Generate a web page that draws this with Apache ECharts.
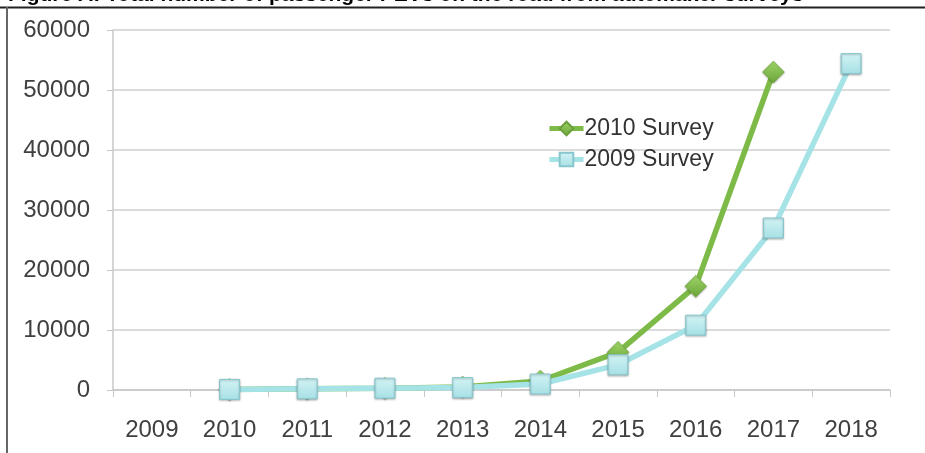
<!DOCTYPE html>
<html>
<head>
<meta charset="utf-8">
<script src="https://cdn.jsdelivr.net/npm/echarts@6/dist/echarts.min.js"></script>
<style>
  html, body { margin: 0; padding: 0; background: #fff; }
  #chart { width: 925px; height: 453px; }
</style>
</head>
<body>
<div id="chart"></div>
<script>
const years = ["2009", "2010", "2011", "2012", "2013", "2014", "2015", "2016", "2017", "2018"];
const survey2010 = [null, 100, 200, 300, 500, 1500, 6300, 17300, 53000, null];
const survey2009 = [null, 100, 200, 300, 400, 1000, 4200, 10800, 27000, 54400];
const yTicks = [0, 10000, 20000, 30000, 40000, 50000, 60000];

const fontFamily = "Liberation Sans, Arial, sans-serif";
const labelFont = { fontFamily: fontFamily, fontSize: 24, color: "#404040" };

let option = {
    animation: false,
    backgroundColor: "#fff",
    title: {
        text: "Figure A: Total number of passenger PEVs on the road from automaker surveys",
        left: 3,
        top: -20,
        textStyle: { fontFamily: fontFamily, fontSize: 21, fontWeight: "bold", color: "#000" }
    },
    graphic: [
        { type: "line", shape: { x1: 0, y1: 7.5, x2: 925, y2: 7.5 }, style: { stroke: "#222", lineWidth: 2 } },
        { type: "line", shape: { x1: 7, y1: 7, x2: 7, y2: 453 }, style: { stroke: "#666", lineWidth: 2 } }
    ],
    legend: {
        orient: "vertical",
        left: 542,
        top: 112,
        itemGap: 8,
        itemWidth: 34,
        itemHeight: 17,
        lineStyle: { width: 5 },
        textStyle: { fontFamily: fontFamily, fontSize: 23, color: "#333", padding: [0, 0, 0, -4] },
        data: ["2010 Survey", "2009 Survey"]
    },
    grid: { left: 113, right: 35, top: 30, bottom: 63 },
    xAxis: {
        type: "category",
        data: years,
        boundaryGap: true,
        axisLine: { lineStyle: { color: "#c8c8c8", width: 1.5 } },
        axisTick: { show: true, length: 7, lineStyle: { color: "#c8c8c8" } },
        axisLabel: Object.assign({ margin: 28 }, labelFont)
    },
    yAxis: {
        type: "value",
        min: yTicks[0],
        max: yTicks[yTicks.length - 1],
        interval: 10000,
        axisLine: { show: true, lineStyle: { color: "#c8c8c8", width: 1.5 } },
        axisTick: { show: true, length: 6, lineStyle: { color: "#c8c8c8" } },
        axisLabel: Object.assign({ margin: 23, formatter: v => String(v) }, labelFont),
        splitLine: { lineStyle: { color: "#cfcfcf", width: 1.5 } }
    },
    series: [
        {
            name: "2010 Survey",
            type: "line",
            data: survey2010,
            z: 2,
            symbol: "diamond",
            symbolSize: 22,
            lineStyle: { color: "#7dba48", width: 5.5 },
            itemStyle: {
                color: new echarts.graphic.LinearGradient(0, 0, 0, 1, [
                    { offset: 0, color: "#9fd66a" },
                    { offset: 1, color: "#6aa338" }
                ]),
                borderColor: "#6a9f3a",
                borderWidth: 0.5,
                shadowColor: "rgba(0,0,0,0.25)",
                shadowBlur: 2,
                shadowOffsetY: 1
            }
        },
        {
            name: "2009 Survey",
            type: "line",
            data: survey2009,
            z: 3,
            symbol: "rect",
            symbolSize: 20,
            lineStyle: { color: "#a6e3e7", width: 5.5 },
            itemStyle: {
                color: new echarts.graphic.LinearGradient(0, 0, 0, 1, [
                    { offset: 0, color: "#d3f3f5" },
                    { offset: 1, color: "#a6e0e5" }
                ]),
                borderColor: "#86c6cc",
                borderWidth: 1,
                shadowColor: "rgba(0,0,0,0.25)",
                shadowBlur: 2,
                shadowOffsetY: 1
            }
        }
    ]
};

const chart = echarts.init(document.querySelector("#chart"), null, { renderer: "canvas" });
chart.setOption(option);
window.onresize = () => { chart.resize() }
</script>
</body>
</html>
